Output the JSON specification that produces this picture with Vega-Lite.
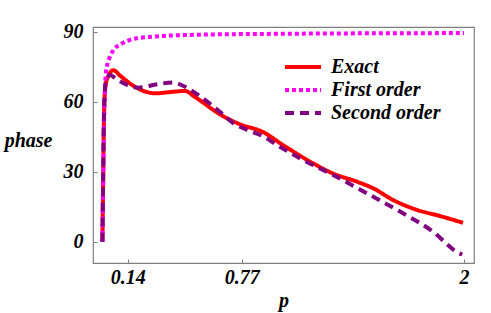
{
  "$schema": "https://vega.github.io/schema/vega-lite/v6.json",
  "autosize": {"type": "none"},
  "padding": {"left": 93, "top": 27, "right": 17, "bottom": 50},
  "width": 381,
  "height": 236,
  "background": "white",
  "config": {
    "view": {"stroke": "#808080", "strokeWidth": 1.2},
    "font": "Liberation Serif",
    "axis": {
      "labelFont": "Liberation Serif", "labelFontStyle": "italic", "labelFontWeight": "bold",
      "labelFontSize": 20, "labelColor": "black",
      "titleFont": "Liberation Serif", "titleFontStyle": "italic", "titleFontWeight": "bold",
      "titleFontSize": 20, "titleColor": "black",
      "domain": false, "grid": false, "tickColor": "#808080", "tickSize": -4, "tickWidth": 1
    },
    "legend": {
      "labelFont": "Liberation Serif", "labelFontStyle": "italic", "labelFontWeight": "bold",
      "labelFontSize": 20, "labelColor": "black"
    }
  },
  "data": {"values": [
    {"p": 0, "v": 0, "s": "Exact"},
    {"p": 0.004, "v": 25, "s": "Exact"},
    {"p": 0.008, "v": 50, "s": "Exact"},
    {"p": 0.013, "v": 63, "s": "Exact"},
    {"p": 0.02, "v": 68, "s": "Exact"},
    {"p": 0.033, "v": 71, "s": "Exact"},
    {"p": 0.06, "v": 73.5, "s": "Exact"},
    {"p": 0.1, "v": 71, "s": "Exact"},
    {"p": 0.18, "v": 66.4, "s": "Exact"},
    {"p": 0.29, "v": 63.6, "s": "Exact"},
    {"p": 0.4, "v": 64.3, "s": "Exact"},
    {"p": 0.457, "v": 64.6, "s": "Exact"},
    {"p": 0.51, "v": 62.1, "s": "Exact"},
    {"p": 0.667, "v": 53.8, "s": "Exact"},
    {"p": 0.761, "v": 50.3, "s": "Exact"},
    {"p": 0.888, "v": 47.0, "s": "Exact"},
    {"p": 0.999, "v": 41.4, "s": "Exact"},
    {"p": 1.165, "v": 33.6, "s": "Exact"},
    {"p": 1.276, "v": 29.2, "s": "Exact"},
    {"p": 1.408, "v": 25.7, "s": "Exact"},
    {"p": 1.497, "v": 22.9, "s": "Exact"},
    {"p": 1.607, "v": 17.9, "s": "Exact"},
    {"p": 1.74, "v": 13.6, "s": "Exact"},
    {"p": 1.867, "v": 11.0, "s": "Exact"},
    {"p": 1.994, "v": 8.1, "s": "Exact"},
    {"p": 0, "v": 0, "s": "First order"},
    {"p": 0.005, "v": 30, "s": "First order"},
    {"p": 0.01, "v": 55, "s": "First order"},
    {"p": 0.015, "v": 67, "s": "First order"},
    {"p": 0.02, "v": 73, "s": "First order"},
    {"p": 0.029, "v": 76.5, "s": "First order"},
    {"p": 0.042, "v": 79.3, "s": "First order"},
    {"p": 0.066, "v": 82.6, "s": "First order"},
    {"p": 0.103, "v": 84.7, "s": "First order"},
    {"p": 0.143, "v": 86.2, "s": "First order"},
    {"p": 0.19, "v": 87.2, "s": "First order"},
    {"p": 0.236, "v": 87.6, "s": "First order"},
    {"p": 0.28, "v": 87.9, "s": "First order"},
    {"p": 0.54, "v": 88.7, "s": "First order"},
    {"p": 1.0, "v": 89.1, "s": "First order"},
    {"p": 1.5, "v": 89.3, "s": "First order"},
    {"p": 2.0, "v": 89.4, "s": "First order"},
    {"p": 0, "v": 0, "s": "Second order"},
    {"p": 0.004, "v": 28, "s": "Second order"},
    {"p": 0.008, "v": 52, "s": "Second order"},
    {"p": 0.013, "v": 64, "s": "Second order"},
    {"p": 0.02, "v": 69, "s": "Second order"},
    {"p": 0.042, "v": 71.4, "s": "Second order"},
    {"p": 0.08, "v": 69.5, "s": "Second order"},
    {"p": 0.125, "v": 67.6, "s": "Second order"},
    {"p": 0.197, "v": 66, "s": "Second order"},
    {"p": 0.307, "v": 67.5, "s": "Second order"},
    {"p": 0.39, "v": 68.2, "s": "Second order"},
    {"p": 0.473, "v": 65.7, "s": "Second order"},
    {"p": 0.53, "v": 62.9, "s": "Second order"},
    {"p": 0.667, "v": 54.5, "s": "Second order"},
    {"p": 0.72, "v": 51, "s": "Second order"},
    {"p": 0.8, "v": 47.9, "s": "Second order"},
    {"p": 0.888, "v": 45.2, "s": "Second order"},
    {"p": 0.966, "v": 41.4, "s": "Second order"},
    {"p": 1.093, "v": 35.7, "s": "Second order"},
    {"p": 1.276, "v": 28.6, "s": "Second order"},
    {"p": 1.464, "v": 20.7, "s": "Second order"},
    {"p": 1.646, "v": 12.9, "s": "Second order"},
    {"p": 1.828, "v": 4.3, "s": "Second order"},
    {"p": 1.967, "v": -4.7, "s": "Second order"},
    {"p": 1.99, "v": -5.5, "s": "Second order"}
  ]},
  "mark": {"type": "line", "interpolate": "monotone", "strokeWidth": 4, "clip": true},
  "encoding": {
    "x": {"field": "p", "type": "quantitative",
      "scale": {"domain": [-0.052, 2.055], "nice": false, "zero": false},
      "axis": {"values": [0.14, 0.77, 2], "format": ".2~f", "labelPadding": 8, "title": "p", "titlePadding": 3}},
    "y": {"field": "v", "type": "quantitative",
      "scale": {"domain": [-9.13, 92.0], "nice": false, "zero": false},
      "axis": {"values": [0, 30, 60, 90], "labelPadding": 14, "title": "phase", "titleAngle": 0,
        "titleAlign": "right", "titleBaseline": "middle", "titleX": -41, "titleY": 113}},
    "color": {"field": "s", "type": "nominal",
      "scale": {"domain": ["Exact", "First order", "Second order"], "range": ["#ff0000", "#ff00ff", "#800080"]},
      "legend": {"title": null, "orient": "none", "legendX": 190, "legendY": 30, "padding": 0,
        "symbolType": "stroke", "symbolSize": 1296, "symbolStrokeWidth": 4, "labelOffset": 8, "rowPadding": 3, "clipHeight": 20}},
    "strokeDash": {"field": "s", "type": "nominal",
      "scale": {"domain": ["Exact", "First order", "Second order"], "range": [[1, 0], [4, 3], [9, 6]]},
      "legend": {"title": null, "orient": "none", "legendX": 190, "legendY": 30, "padding": 0,
        "symbolType": "stroke", "symbolSize": 1296, "symbolStrokeWidth": 4, "labelOffset": 8, "rowPadding": 3, "clipHeight": 20}}
  }
}
